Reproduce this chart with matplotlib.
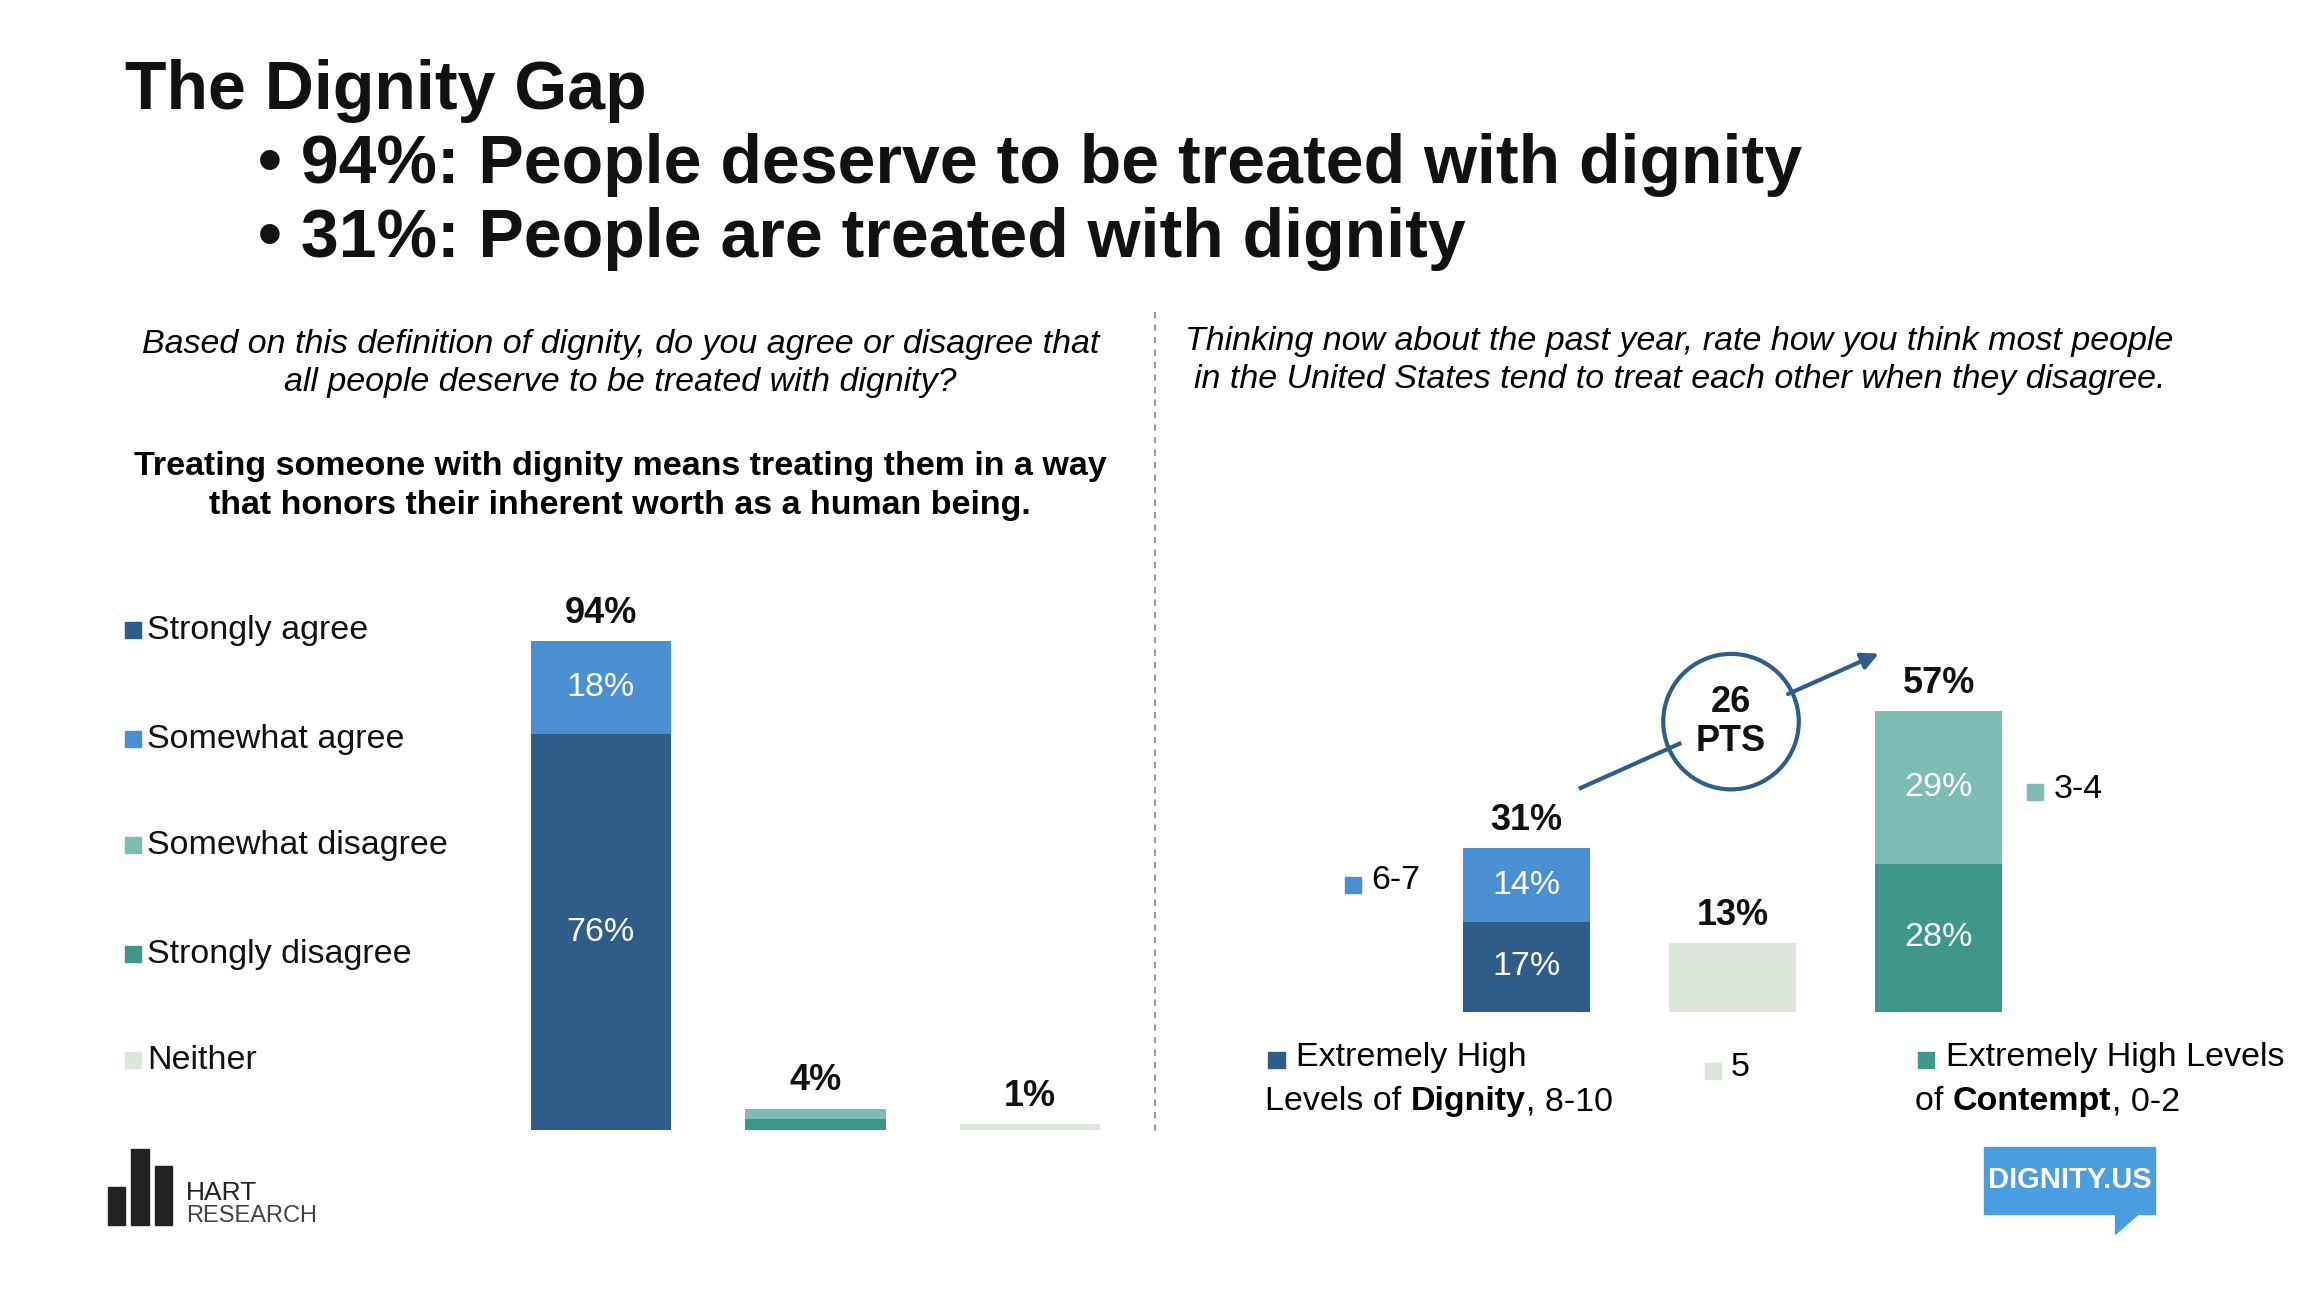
import matplotlib
matplotlib.use("Agg")
import matplotlib.pyplot as plt
from matplotlib.patches import Ellipse, Rectangle, Polygon

plt.rcParams['font.family'] = ['Liberation Sans', 'DejaVu Sans']

# ---- data ----
left_cats = ["Agree", "Disagree", "Neither"]
left_strong = [76, 2, 1]
left_some = [18, 2, 0]
left_totals = ["94%", "4%", "1%"]
left_legend = ["Strongly agree", "Somewhat agree", "Somewhat disagree", "Strongly disagree", "Neither"]

right_cats = ["Dignity", "5", "Contempt"]
right_low = [17, 13, 28]
right_high = [14, 0, 29]
right_totals = ["31%", "13%", "57%"]

C_SA = "#2F5D8A"; C_A = "#4A8FD2"; C_SD = "#7DBCB4"; C_D = "#3E978A"; C_N = "#DDE6DA"

W, H = 1568, 880
fig = plt.figure(figsize=(23.1, 12.96), dpi=100)
def fx(x): return x / W
def fy(y): return 1 - y / H

FS = 24.5
# titles
fig.text(fx(85), fy(62), "The Dignity Gap", fontsize=49, fontweight='bold', va='center', color='#111')
fig.text(fx(175), fy(112), "• 94%: People deserve to be treated with dignity", fontsize=49, fontweight='bold', va='center', color='#111')
fig.text(fx(175), fy(162), "• 31%: People are treated with dignity", fontsize=49, fontweight='bold', va='center', color='#111')

fig.text(fx(421), fy(247), "Based on this definition of dignity, do you agree or disagree that\nall people deserve to be treated with dignity?",
         fontsize=FS, style='italic', ha='center', va='center', linespacing=1.3)
fig.text(fx(421), fy(330), "Treating someone with dignity means treating them in a way\nthat honors their inherent worth as a human being.",
         fontsize=FS, fontweight='bold', ha='center', va='center', linespacing=1.3)
fig.text(fx(1140), fy(245), "Thinking now about the past year, rate how you think most people\nin the United States tend to treat each other when they disagree.",
         fontsize=FS, style='italic', ha='center', va='center', linespacing=1.3)

# divider
fig.add_artist(plt.Line2D([fx(784), fx(784)], [fy(212), fy(768)], color='#999', lw=1.5, ls=(0, (3, 3))))

def sq(x, y, col):
    fig.add_artist(Rectangle((fx(x), fy(y) - 5.5 / H), 11 / W, 11 / H, transform=fig.transFigure, color=col))

# left legend
for lab, col, y in zip(left_legend, [C_SA, C_A, C_SD, C_D, C_N], [428, 502, 574, 648, 720]):
    sq(85, y, col)
    fig.text(fx(100), fy(y), lab, fontsize=FS, va='center', color='#111')

# left chart
ax = fig.add_axes([fx(335), fy(767), fx(772) - fx(335), (767 - 414) / H])
x = range(3)
bw = 0.655
ax.bar(x[0], left_strong[0], bw, color=C_SA)
ax.bar(x[0], left_some[0], bw, bottom=left_strong[0], color=C_A)
ax.bar(x[1], left_strong[1], bw, color=C_D)
ax.bar(x[1], left_some[1], bw, bottom=left_strong[1], color=C_SD)
ax.bar(x[2], left_strong[2], bw, color=C_N)
tot = [a + b for a, b in zip(left_strong, left_some)]
for i in x:
    ax.text(i, tot[i] + 2, left_totals[i], ha='center', va='bottom', fontsize=26, fontweight='bold', color='#111')
ax.text(0, left_strong[0] / 2, f"{left_strong[0]}%", ha='center', va='center', color='white', fontsize=FS)
ax.text(0, left_strong[0] + left_some[0] / 2, f"{left_some[0]}%", ha='center', va='center', color='white', fontsize=FS)
ax.set_xlim(-0.5, 2.5); ax.set_ylim(0, 100); ax.axis('off')

# right chart
ax2 = fig.add_axes([fx(966), fy(687), fx(1386) - fx(966), (687 - 329) / H])
bw2 = 0.614
ax2.bar(0, right_low[0], bw2, color=C_SA)
ax2.bar(0, right_high[0], bw2, bottom=right_low[0], color=C_A)
ax2.bar(1, right_low[1], bw2, color=C_N)
ax2.bar(2, right_low[2], bw2, color=C_D)
ax2.bar(2, right_high[2], bw2, bottom=right_low[2], color=C_SD)
rt = [a + b for a, b in zip(right_low, right_high)]
for i in range(3):
    ax2.text(i, rt[i] + 2, right_totals[i], ha='center', va='bottom', fontsize=26, fontweight='bold', color='#111')
for i in (0, 2):
    ax2.text(i, right_low[i] / 2, f"{right_low[i]}%", ha='center', va='center', color='white', fontsize=FS)
    ax2.text(i, right_low[i] + right_high[i] / 2, f"{right_high[i]}%", ha='center', va='center', color='white', fontsize=FS)
ax2.set_xlim(-0.5, 2.5); ax2.set_ylim(0, 100); ax2.axis('off')

# arrow and circle
fig.add_artist(plt.Line2D([fx(1073), fx(1140)], [fy(535), fy(505)], color=C_SA, lw=3))
fig.add_artist(matplotlib.patches.FancyArrowPatch((fx(1212), fy(472)), (fx(1277), fy(443)), transform=fig.transFigure,
               arrowstyle='-|>', mutation_scale=25, color=C_SA, lw=3))
fig.add_artist(Ellipse((fx(1175), fy(490)), 92 / W, 92 / H, transform=fig.transFigure, fill=False, ec=C_SA, lw=3))
fig.text(fx(1175), fy(490), "26\nPTS", ha='center', va='center', fontsize=26, fontweight='bold', linespacing=1.15, color='#111')

# right labels
sq(913, 601, C_A); fig.text(fx(931), fy(598), "6-7", fontsize=FS, va='center')
sq(1376, 538, C_SD); fig.text(fx(1394), fy(536), "3-4", fontsize=FS, va='center')
sq(861, 720, C_SA); fig.text(fx(880), fy(718), "Extremely High", fontsize=FS, va='center')
t = fig.text(fx(859), fy(748), "Levels of ", fontsize=FS, va='center')
t2 = plt.Annotation("Dignity", xy=(1, 0.5), xycoords=t, va='center', fontsize=FS, fontweight='bold'); fig.add_artist(t2)
t3 = plt.Annotation(", 8-10", xy=(1, 0.5), xycoords=t2, va='center', fontsize=FS); fig.add_artist(t3)
sq(1157, 727, C_N); fig.text(fx(1175), fy(725), "5", fontsize=FS, va='center')
sq(1302, 720, C_D); fig.text(fx(1321), fy(718), "Extremely High Levels", fontsize=FS, va='center')
u = fig.text(fx(1300), fy(748), "of ", fontsize=FS, va='center')
u2 = plt.Annotation("Contempt", xy=(1, 0.5), xycoords=u, va='center', fontsize=FS, fontweight='bold'); fig.add_artist(u2)
u3 = plt.Annotation(", 0-2", xy=(1, 0.5), xycoords=u2, va='center', fontsize=FS); fig.add_artist(u3)

# logos
for x0, h in [(73, 26), (89, 52), (105, 40)]:
    fig.add_artist(Rectangle((fx(x0), fy(832)), 12 / W, h / H, transform=fig.transFigure, color='#222'))
fig.text(fx(126), fy(810), "HART", fontsize=19, va='center', color='#222')
fig.text(fx(126), fy(826), "RESEARCH", fontsize=17, va='center', color='#444')
fig.add_artist(Rectangle((fx(1347), fy(824)), 116 / W, 45 / H, transform=fig.transFigure, color='#4A9DE0'))
fig.add_artist(Polygon([(fx(1436), fy(824)), (fx(1452), fy(824)), (fx(1436), fy(838))], closed=True, transform=fig.transFigure, color='#4A9DE0'))
fig.text(fx(1405), fy(801), "DIGNITY.US", fontsize=21, fontweight='bold', color='white', ha='center', va='center',
         family=['Liberation Sans Narrow', 'Liberation Sans'])

fig.savefig("out.png", dpi=100)
